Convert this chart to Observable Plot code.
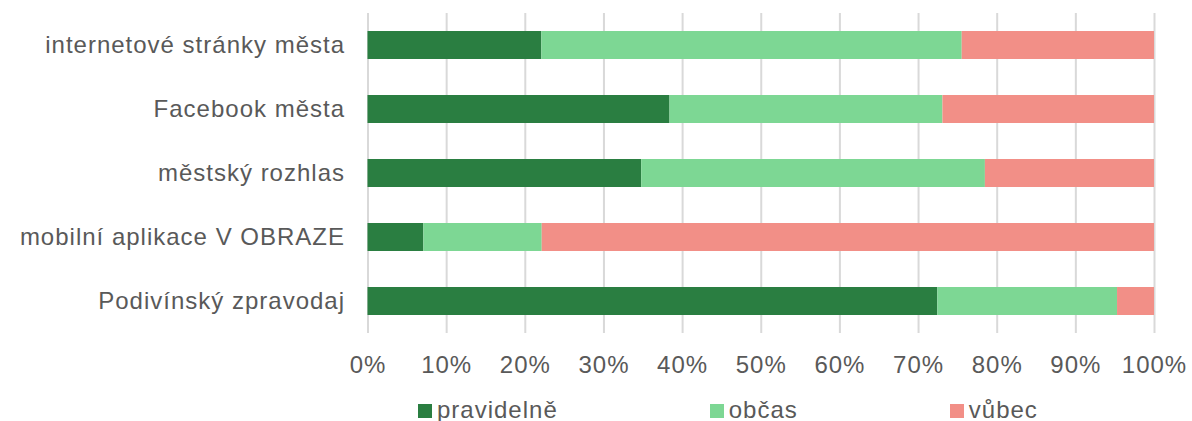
<!DOCTYPE html>
<html>
<head>
<meta charset="utf-8">
<script src="https://cdn.jsdelivr.net/npm/d3@7"></script>
<script src="https://cdn.jsdelivr.net/npm/@observablehq/plot@0.6"></script>
<style>
  html, body { margin: 0; padding: 0; background: #fff; overflow: hidden; }
  #wrap { position: relative; width: 1192px; height: 421px; }
  #legend {
    position: absolute; top: 394.7px; left: 418px;
    display: flex; gap: 152px;
    font-family: "Liberation Sans", Arial, sans-serif; font-size: 24px;
    letter-spacing: 1px; line-height: 30px; color: #595959; white-space: nowrap;
  }
  #legend .sw { display: inline-block; width: 14px; height: 14px; margin-right: 5px; vertical-align: baseline; }
</style>
</head>
<body>
<div id="wrap"></div>
<script>
const categories = [
  "internetové stránky města",
  "Facebook města",
  "městský rozhlas",
  "mobilní aplikace V OBRAZE",
  "Podivínský zpravodaj"
];
const seriesNames = ["pravidelně", "občas", "vůbec"];
const pravidelne = [22.1, 38.4, 34.8, 7.1, 72.45];
const obcas      = [53.45, 34.7, 43.7, 15.05, 22.85];
const vubec      = [24.45, 26.9, 21.5, 77.85, 4.7];
const colors = ["#2a7e41", "#7dd794", "#f28f87"];
const xTicks = [0, 10, 20, 30, 40, 50, 60, 70, 80, 90, 100];

const seriesValues = [pravidelne, obcas, vubec];
const rows = [];
categories.forEach((c, i) => {
  seriesNames.forEach((s, j) => rows.push({cat: c, series: s, value: seriesValues[j][i]}));
});

const height = 390;
const chart = Plot.plot({
  width: 1192,
  height,
  marginTop: 13,
  marginBottom: height - 333,
  marginLeft: 367.5,
  marginRight: 38,
  style: {
    fontFamily: "'Liberation Sans', Arial, sans-serif",
    fontSize: "24px",
    color: "#595959",
    letterSpacing: "1px",
    background: "#fff"
  },
  x: {domain: [0, 100], ticks: xTicks, tickFormat: d => d + "%", tickSize: 0, tickPadding: 22, label: null},
  y: {domain: categories, paddingInner: 0.555, paddingOuter: 0.2775, tickSize: 0, tickPadding: 23, label: null},
  color: {domain: seriesNames, range: colors},
  marks: [
    Plot.ruleX(xTicks, {stroke: "#d9d9d9", strokeWidth: 2}),
    Plot.barX(rows, Plot.stackX({x: "value", y: "cat", fill: "series", order: seriesNames})),
    Plot.axisX({ticks: xTicks, tickFormat: d => d + "%", tickSize: 0, tickPadding: 22, label: null}),
    Plot.axisY({tickSize: 0, tickPadding: 23, label: null})
  ]
});
document.getElementById("wrap").appendChild(chart);

const legend = document.createElement("div");
legend.id = "legend";
seriesNames.forEach((s, j) => {
  const item = document.createElement("span");
  const sw = document.createElement("span");
  sw.className = "sw";
  sw.style.background = colors[j];
  item.appendChild(sw);
  item.appendChild(document.createTextNode(s));
  legend.appendChild(item);
});
document.getElementById("wrap").appendChild(legend);
</script>
</body>
</html>
